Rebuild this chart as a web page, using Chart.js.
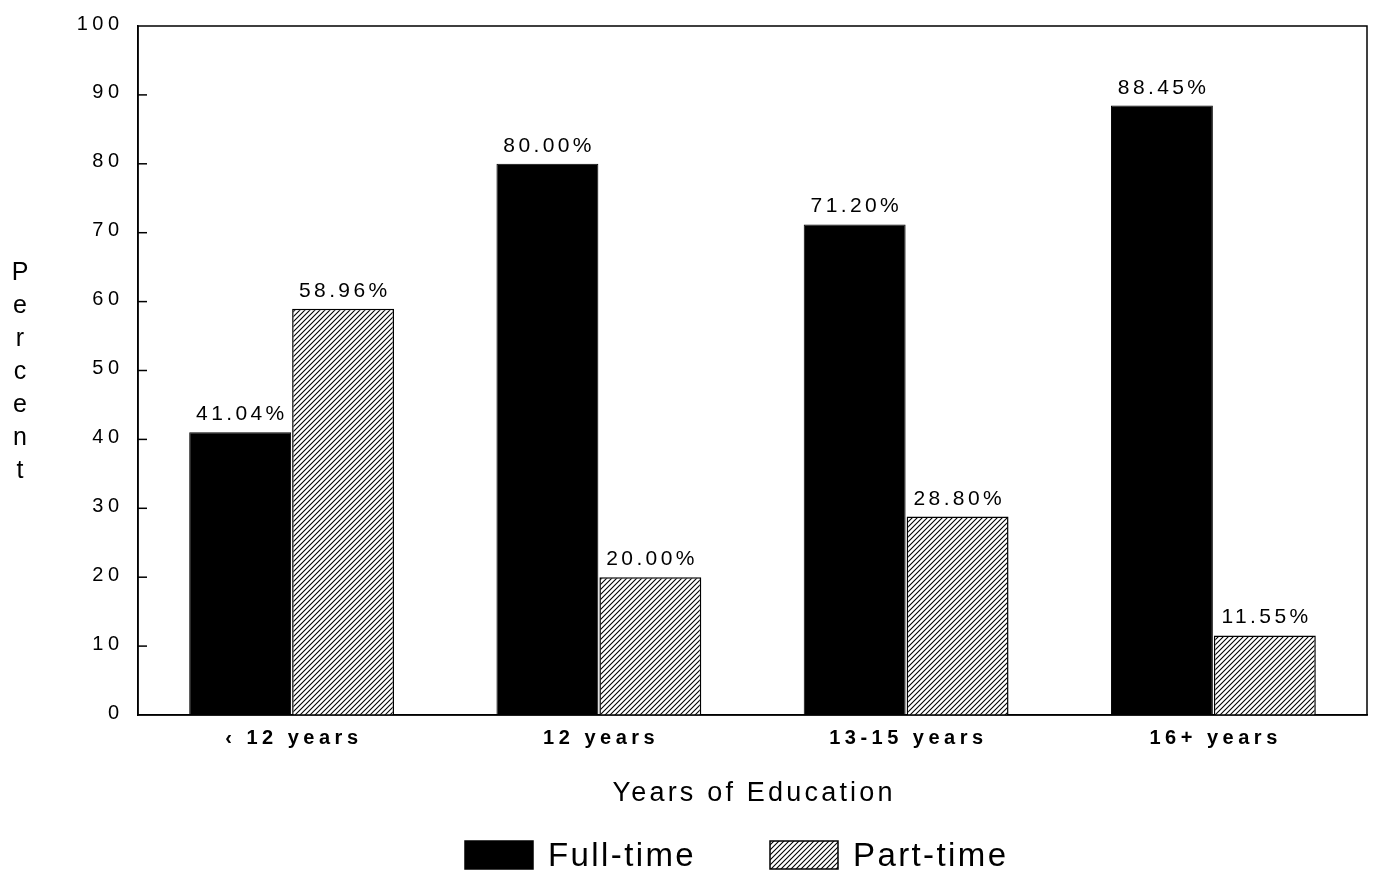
<!DOCTYPE html>
<html><head><meta charset="utf-8">
<script src="https://cdn.jsdelivr.net/npm/chart.js@4.4.0/dist/chart.umd.min.js"></script>
<style>
html,body{margin:0;padding:0;background:#fff;}
#wrap{position:relative;width:1373px;height:876px;}
#ytitle{position:absolute;left:8px;top:255px;width:24px;text-align:center;font-family:"Liberation Sans",Arial,sans-serif;font-size:25px;line-height:33px;color:#000;}
</style></head>
<body><div id="wrap"><canvas id="c" width="1373" height="876"></canvas>
<div id="ytitle">P<br>e<br>r<br>c<br>e<br>n<br>t</div></div>
<script>
const categories = ["‹ 12 years", "12 years", "13-15 years", "16+ years"];
const fullTime = [41.04, 80.00, 71.20, 88.45];
const partTime = [58.96, 20.00, 28.80, 11.55];
const seriesNames = ["Full-time", "Part-time"];
const xTitle = "Years of Education";

function hatch(){
  const s=5, p=document.createElement('canvas'); p.width=s; p.height=s;
  const g=p.getContext('2d'); g.fillStyle='#fff'; g.fillRect(0,0,s,s);
  g.strokeStyle='#000'; g.lineWidth=1.1;
  g.beginPath();
  g.moveTo(-1,s+1); g.lineTo(s+1,-1);
  g.moveTo(-1,1); g.lineTo(1,-1);
  g.moveTo(s-1,s+1); g.lineTo(s+1,s-1);
  g.stroke();
  return g.createPattern(p,'repeat');
}
const FONT="'Liberation Sans', Arial, sans-serif";

function spacedText(ctx,text,x,y,sp,align){
  ctx.letterSpacing=sp+'px';
  const w=ctx.measureText(text).width - sp;
  let sx = align==='center' ? x-w/2 : align==='right' ? x-w : x;
  ctx.textAlign='left';
  ctx.fillText(text,sx,y);
}

const framePlugin={
  id:'frame',
  afterDatasetsDraw(chart){
    const {ctx,chartArea:a,scales:{x,y}}=chart;
    ctx.save();
    ctx.strokeStyle='#000'; ctx.lineWidth=1.5;
    ctx.strokeRect(a.left,a.top,a.right-a.left,a.bottom-a.top);
    ctx.fillStyle='#000'; ctx.textBaseline='middle';
    // y ticks + labels
    ctx.font="20px "+FONT;
    y.ticks.forEach(t=>{const py=y.getPixelForValue(t.value);
      if(t.value>0 && t.value<100){ctx.beginPath(); ctx.moveTo(a.left,py); ctx.lineTo(a.left+9,py); ctx.stroke();}
      spacedText(ctx,String(t.value),119,py-2,4.5,'right');
    });
    // x labels
    ctx.font="bold 20px "+FONT;
    chart.data.labels.forEach((lab,i)=>{
      spacedText(ctx,lab,x.getPixelForTick(i),a.bottom+23,4.5,'center');
    });
    // x title
    ctx.font="27px "+FONT;
    spacedText(ctx,xTitle,(a.left+a.right)/2,a.bottom+79,3.2,'center');
    // data labels
    ctx.font="21px "+FONT; ctx.textBaseline='alphabetic';
    chart.data.datasets.forEach((ds,i)=>{
      chart.getDatasetMeta(i).data.forEach((bar,j)=>{
        spacedText(ctx,ds.data[j].toFixed(2)+'%', bar.x, bar.y-12, 3.4,'center');
      });
    });
    // legend
    const ly=a.bottom+140, bw=68, bh=28;
    const items=[{x:465},{x:770}];
    ctx.font="33px "+FONT; ctx.textBaseline='middle';
    chart.data.datasets.forEach((ds,i)=>{
      const lx=items[i].x;
      ctx.fillStyle=ds.backgroundColor; ctx.fillRect(lx,ly-bh/2,bw,bh);
      ctx.strokeStyle='#000'; ctx.lineWidth=1.5; ctx.strokeRect(lx,ly-bh/2,bw,bh);
      ctx.fillStyle='#000';
      spacedText(ctx,ds.label,lx+bw+15,ly+2,2.4,'left');
    });
    ctx.restore();
  }
};

new Chart(document.getElementById('c'),{
  type:'bar',
  data:{labels:categories,datasets:[
    {label:seriesNames[0],data:fullTime,backgroundColor:'#000',borderColor:'#000',borderWidth:1},
    {label:seriesNames[1],data:partTime,backgroundColor:hatch(),borderColor:'#000',borderWidth:1.5}
  ]},
  options:{
    responsive:false,animation:false,
    layout:{padding:{left:138,right:6,top:26,bottom:161}},
    datasets:{bar:{barPercentage:0.99,categoryPercentage:0.67}},
    plugins:{legend:{display:false},tooltip:{enabled:false}},
    scales:{
      y:{min:0,max:100,ticks:{display:false,stepSize:10},
        grid:{display:false,drawTicks:false},border:{display:true,color:'#000',width:1.5}},
      x:{ticks:{display:false},
        grid:{display:false,drawTicks:false},border:{display:true,color:'#000',width:1.5}}
    }
  },
  plugins:[framePlugin]
});
</script></body></html>
